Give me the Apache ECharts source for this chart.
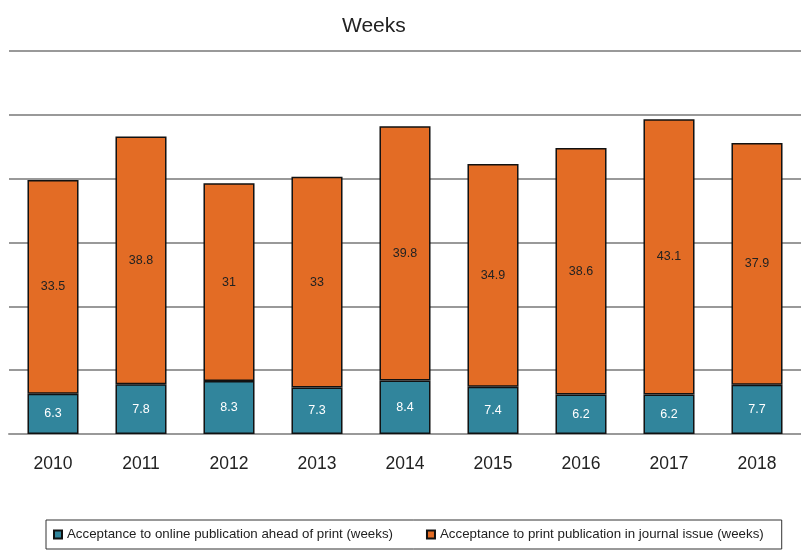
<!DOCTYPE html>
<html><head><meta charset="utf-8">
<script src="https://cdn.jsdelivr.net/npm/echarts@6/dist/echarts.min.js"></script>
<style>html,body{margin:0;padding:0;background:#fff}#c{width:801px;height:550px}</style>
</head><body><div id="c"></div>
<script>
const years = ['2010','2011','2012','2013','2014','2015','2016','2017','2018'];
const onlineWeeks = [6.3, 7.8, 8.3, 7.3, 8.4, 7.4, 6.2, 6.2, 7.7];
const printWeeks = [33.5, 38.8, 31, 33, 39.8, 34.9, 38.6, 43.1, 37.9];
const seriesNames = ['Acceptance to online publication ahead of print (weeks)', 'Acceptance to print publication in journal issue (weeks)'];

const chart = echarts.init(document.getElementById('c'));
const font = 'Liberation Sans, Arial, Helvetica, sans-serif';
chart.setOption({
  animation: false,
  textStyle: {fontFamily: font},
  title: {text: 'Weeks', left: 337, top: 11, textStyle: {fontSize: 21, fontWeight: 'normal', color: '#222', fontFamily: font}},
  grid: {left: 9, right: 0, top: 51, bottom: 116, containLabel: false},
  legend: {
    bottom: 1, left: 46,
    backgroundColor: '#fff', borderColor: '#333', borderWidth: 1,
    padding: [8, 18, 8, 7], itemGap: 33,
    itemWidth: 8, itemHeight: 8, icon: 'rect',
    textStyle: {fontSize: 13.3, color: '#222'},
    data: seriesNames
  },
  xAxis: {
    type: 'category', data: years,
    axisLine: {lineStyle: {color: '#999', width: 2}},
    axisTick: {show: false},
    axisLabel: {fontSize: 17.5, color: '#222', margin: 21}
  },
  yAxis: {
    type: 'value', min: 0, max: 60, interval: 10,
    axisLabel: {show: false}, axisLine: {show: false}, axisTick: {show: false},
    splitLine: {lineStyle: {color: '#999', width: 2}}
  },
  series: [
    {name: seriesNames[0], type: 'bar', stack: 'w', data: onlineWeeks, barWidth: '58%',
     itemStyle: {color: '#31859C', borderColor: '#111', borderWidth: 1.5},
     label: {show: true, position: 'inside', color: '#fff', fontSize: 12.5}},
    {name: seriesNames[1], type: 'bar', stack: 'w', data: printWeeks, barWidth: '58%',
     itemStyle: {color: '#E36C25', borderColor: '#111', borderWidth: 1.5},
     label: {show: true, position: 'inside', color: '#222', fontSize: 12.5}}
  ]
});
</script></body></html>
